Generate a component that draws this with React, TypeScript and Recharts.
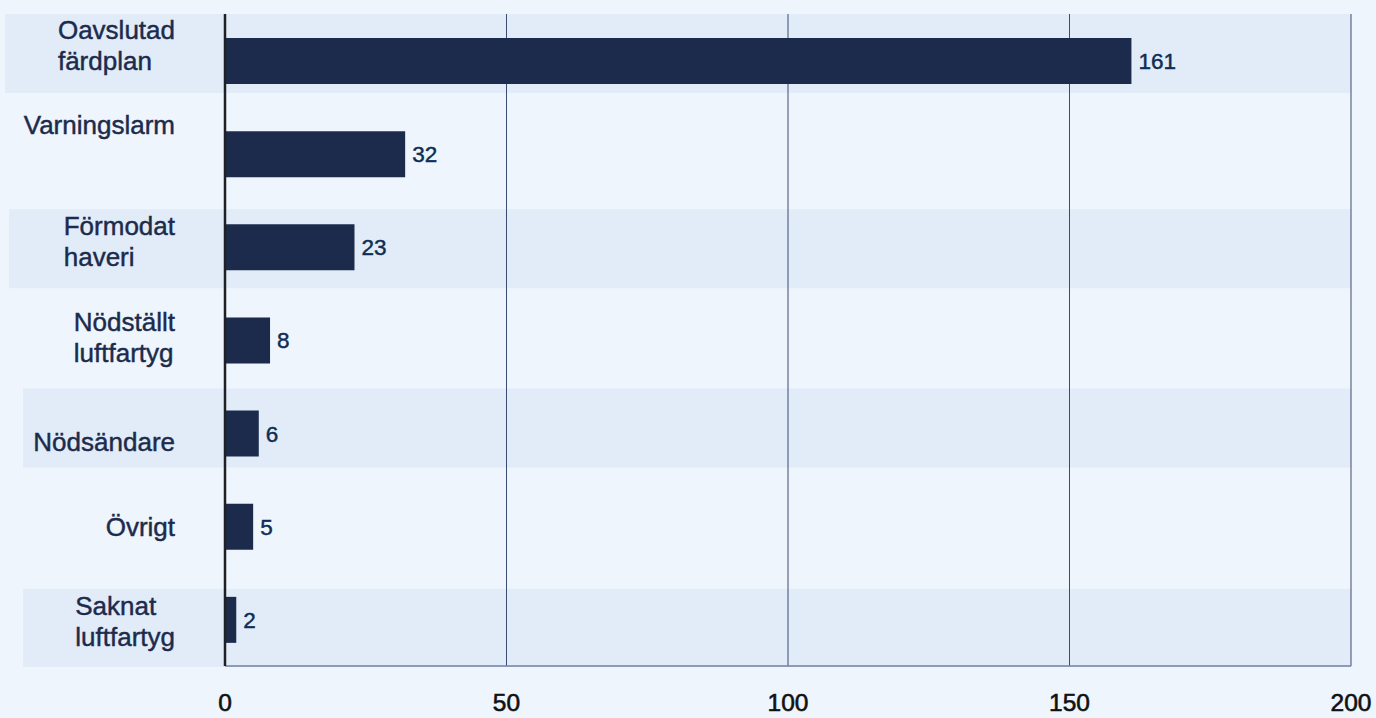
import React from "react";
import {
  BarChart,
  Bar,
  XAxis,
  YAxis,
  CartesianGrid,
  ReferenceArea,
  LabelList,
} from "recharts";

// ---- data ----
const categories: string[] = [
  "Oavslutad\nfärdplan",
  "Varningslarm",
  "Förmodat\nhaveri",
  "Nödställt\nluftfartyg",
  "Nödsändare",
  "Övrigt",
  "Saknat\nluftfartyg",
];
const counts: number[] = [161, 32, 23, 8, 6, 5, 2];
const xTicks: number[] = [0, 50, 100, 150, 200];

// ---- styling (not data) ----
const FONT = '"Liberation Sans", Arial, sans-serif';
const BG = "#eef5fd";
const BAND = "#e1ecf8";
const BAR = "#1c2b4b";
const labelShift: number[] = [-15, -29, -5, -3, 9, 1, 2];
const bandStyles = [
  { idx: 0, extend: 220, top: 0, height: 79 },
  { idx: 2, extend: 216, top: 9, height: 79 },
  { idx: 4, extend: 202, top: 2, height: 79 },
  { idx: 6, extend: 202, top: 16, height: 78 },
];

const data = categories.map((name, i) => ({ name, value: counts[i] }));

let ctx: CanvasRenderingContext2D | null = null;
function measure(text: string, font: string): number {
  if (!ctx) ctx = document.createElement("canvas").getContext("2d");
  if (!ctx) return text.length * 12;
  ctx.font = font;
  return ctx.measureText(text).width;
}

const Y_FONT_SIZE = 26;
const LINE_H = 31;

function YTick(props: any) {
  const { x, y, payload, index } = props;
  const lines: string[] = String(payload.value).split("\n");
  const w = Math.max(...lines.map((l) => measure(l, `${Y_FONT_SIZE}px ${FONT}`)));
  const left = x - w;
  const shift = labelShift[index] ?? 0;
  const startY = y + shift - ((lines.length - 1) * LINE_H) / 2;
  return (
    <text
      x={left}
      y={startY}
      fill="#1c2b4b"
      stroke="#1c2b4b"
      strokeWidth={0.45}
      fontSize={Y_FONT_SIZE}
      fontFamily={FONT}
      dominantBaseline="central"
    >
      {lines.map((l, i) => (
        <tspan key={i} x={left} y={startY + i * LINE_H} dominantBaseline="central">
          {l}
        </tspan>
      ))}
    </text>
  );
}

function makeBandShape(extend: number, top: number, height: number) {
  return (p: any) => (
    <rect
      x={p.x - extend}
      y={p.y + top}
      width={p.width + extend}
      height={height}
      fill={BAND}
      stroke="none"
    />
  );
}

export default function App() {
  return (
    <div
      style={{
        position: "absolute",
        left: 0,
        top: 0,
        width: 1376,
        height: 718,
        background: BG,
        overflow: "hidden",
      }}
    >
      <BarChart
        width={1376}
        height={718}
        data={data}
        layout="vertical"
        margin={{ top: 14, right: 25, bottom: 0, left: 0 }}
        barSize={46}
      >
        {bandStyles.map((b) => (
          <ReferenceArea
            key={b.idx}
            y1={categories[b.idx]}
            y2={categories[b.idx]}
            x1={0}
            x2={200}
            ifOverflow="visible"
            zIndex={-200}
            shape={makeBandShape(b.extend, b.top, b.height)}
          />
        ))}
        <CartesianGrid
          horizontal={false}
          vertical={true}
          stroke="#3c4b70"
          strokeWidth={1}
        />
        <XAxis
          type="number"
          domain={[0, 200]}
          ticks={xTicks}
          interval={0}
          tickLine={false}
          tickSize={0}
          tickMargin={28}
          height={52}
          axisLine={{ stroke: "#6f80a2", strokeWidth: 1.5 }}
          tick={{
            fill: "#111111",
            stroke: "#111111",
            strokeWidth: 0.6,
            fontSize: 24.5,
            fontFamily: FONT,
          }}
        />
        <YAxis
          type="category"
          dataKey="name"
          width={225}
          tickLine={false}
          tickSize={0}
          tickMargin={50}
          interval={0}
          axisLine={{ stroke: "#1e2024", strokeWidth: 2.5 }}
          tick={<YTick />}
        />
        <Bar dataKey="value" fill={BAR} isAnimationActive={false}>
          <LabelList
            dataKey="value"
            position="right"
            offset={7}
            fill="#0f2d55"
            stroke="#0f2d55"
            strokeWidth={0.45}
            fontSize={22.5}
            fontFamily={FONT}
          />
        </Bar>
      </BarChart>
    </div>
  );
}
